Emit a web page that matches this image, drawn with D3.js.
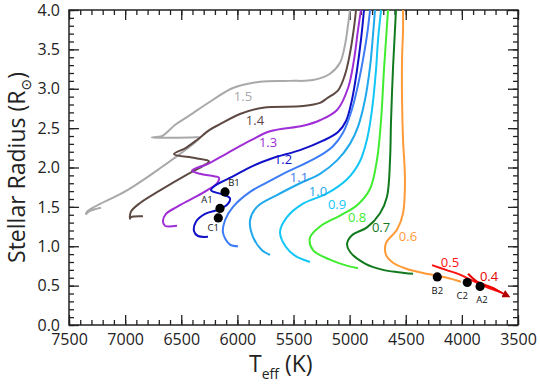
<!DOCTYPE html>
<html>
<head>
<meta charset="utf-8">
<script src="https://cdn.jsdelivr.net/npm/d3@7"></script>
<style>
    body { margin: 0; background: #fff; }
    text { font-family: 'Open Sans', 'DejaVu Sans', sans-serif; }
</style>
</head>
<body>
<script>
(function() {
    'use strict';

    // evolutionary tracks, [Teff (K), R (Rsun)]
    var masses = ['1.5', '1.4', '1.3', '1.2', '1.1', '1.0', '0.9', '0.8', '0.7', '0.6', '0.5', '0.4'];

    var track15 = [[7215, 1.49], [7313, 1.45], [7349, 1.41], [7331, 1.45], [6983, 1.71], [6689, 1.99],
        [6360, 2.34], [6333, 2.38], [6422, 2.38], [6761, 2.38], [6671, 2.40], [6556, 2.54], [6449, 2.64],
        [6217, 2.86], [6039, 3.01], [5798, 3.09], [5531, 3.10], [5326, 3.11], [5175, 3.19], [5086, 3.33],
        [5041, 3.56], [5014, 3.81], [4997, 4.0]];
    var track14 = [[6841, 1.38], [6948, 1.37], [6957, 1.35], [6948, 1.44], [6867, 1.55], [6689, 1.71],
        [6449, 1.91], [6306, 2.02], [6253, 2.08], [6378, 2.12], [6565, 2.17], [6458, 2.25], [6360, 2.35],
        [6244, 2.48], [6155, 2.55], [5977, 2.68], [5772, 2.76], [5415, 2.78], [5264, 2.82], [5201, 2.88],
        [5103, 2.98], [5041, 3.18], [4997, 3.45], [4961, 3.78], [4943, 4.0]];
    var track13 = [[6538, 1.26], [6645, 1.26], [6663, 1.32], [6636, 1.41], [6538, 1.50], [6395, 1.61],
        [6271, 1.71], [6181, 1.80], [6164, 1.87], [6208, 1.89], [6333, 1.92], [6404, 1.96], [6333, 2.01],
        [6271, 2.04], [6092, 2.18], [5887, 2.34], [5709, 2.46], [5415, 2.53], [5264, 2.60], [5112, 2.73],
        [5014, 3.01], [4961, 3.37], [4925, 3.75], [4899, 4.0]];
    var track12 = [[6262, 1.12], [6351, 1.13], [6386, 1.19], [6369, 1.31], [6288, 1.41], [6155, 1.47],
        [6083, 1.54], [6066, 1.61], [6137, 1.66], [6235, 1.71], [6199, 1.77], [6048, 1.88], [5861, 2.02],
        [5683, 2.12], [5442, 2.22], [5237, 2.34], [5103, 2.45], [5032, 2.59], [4979, 2.86], [4934, 3.24],
        [4899, 3.62], [4872, 4.0]];
    var track11 = [[5994, 1.00], [6066, 1.02], [6128, 1.17], [6110, 1.33], [6039, 1.50], [5887, 1.69],
        [5736, 1.81], [5593, 1.92], [5442, 2.02], [5264, 2.15], [5148, 2.27], [5059, 2.44], [4979, 2.74],
        [4925, 3.05], [4881, 3.37], [4845, 3.68], [4818, 4.0]];
    var track10 = [[5709, 0.89], [5781, 0.95], [5861, 1.12], [5887, 1.33], [5825, 1.50], [5647, 1.65],
        [5442, 1.80], [5264, 1.92], [5112, 2.09], [4997, 2.30], [4925, 2.52], [4863, 2.86], [4818, 3.28],
        [4792, 3.68], [4774, 4.0]];
    var track09 = [[5353, 0.80], [5487, 0.88], [5567, 0.99], [5620, 1.18], [5558, 1.37], [5415, 1.54],
        [5201, 1.67], [5023, 1.85], [4908, 2.08], [4845, 2.36], [4801, 2.73], [4765, 3.24], [4747, 3.62],
        [4720, 4.0]];
    var track08 = [[4925, 0.72], [5041, 0.76], [5175, 0.83], [5326, 0.95], [5353, 1.11], [5264, 1.25],
        [5086, 1.39], [4934, 1.52], [4818, 1.73], [4756, 2.10], [4720, 2.60], [4694, 3.24], [4676, 3.62],
        [4658, 4.0]];
    var track07 = [[4435, 0.65], [4569, 0.67], [4703, 0.70], [4863, 0.78], [4997, 0.93], [5023, 1.03],
        [4979, 1.14], [4845, 1.24], [4729, 1.42], [4667, 1.63], [4640, 2.10], [4631, 2.60], [4613, 3.28],
        [4596, 3.75], [4587, 4.0]];
    var track06 = [[4008, 0.55], [4132, 0.60], [4346, 0.66], [4507, 0.72], [4613, 0.79], [4676, 0.89],
        [4676, 1.04], [4578, 1.21], [4524, 1.42], [4507, 1.84], [4524, 2.35], [4533, 2.86], [4533, 3.37],
        [4524, 3.75], [4524, 4.0]];
    var track05 = [[4266, 0.76], [4141, 0.70], [4017, 0.64], [3901, 0.56], [3776, 0.48], [3660, 0.42]];
    var track04 = [[3945, 0.65], [3865, 0.55], [3794, 0.51], [3722, 0.47], [3660, 0.42], [3600, 0.375]];

    var tracks = [track15, track14, track13, track12, track11, track10, track09, track08, track07, track06, track05, track04];

    // where each mass label sits, [Teff, R]
    var labelAt = [[5950, 2.90], [5843, 2.60], [5727, 2.32], [5593, 2.10], [5451, 1.88], [5282, 1.69],
        [5112, 1.53], [4934, 1.37], [4720, 1.24], [4480, 1.13], [4106, 0.79], [3758, 0.62]];

    // stars
    var starNames = ['B1', 'A1', 'C1', 'B2', 'C2', 'A2'];
    var starTeff = [6110, 6155, 6170, 4219, 3952, 3838];
    var starR = [1.69, 1.48, 1.36, 0.61, 0.54, 0.49];

    var tempTicks = [7500, 7000, 6500, 6000, 5500, 5000, 4500, 4000, 3500];
    var radiusTicks = [0, 0.5, 1.0, 1.5, 2.0, 2.5, 3.0, 3.5, 4.0];

    var trackColors = ['#a9a9a9', '#5e4943', '#a02ed6', '#1010c8', '#3c7cf6', '#1fa8ec', '#12c6f6',
        '#40ec30', '#127a1e', '#ff9a36', '#ff1010', '#e80000'];
    var starLabelOffset = [[9, -6], [-13, -5], [-5, 13], [0, 17], [-5, 17], [2, 17]];

    var width = 540, height = 385;
    var plot = { left: 69, right: 518, top: 10, bottom: 325 };

    var svg = d3.select('body').append('svg')
        .attr('width', width)
        .attr('height', height);

    svg.append('defs').append('marker')
        .attr('id', 'tip')
        .attr('viewBox', '0 0 10 10')
        .attr('refX', 5)
        .attr('refY', 5)
        .attr('markerWidth', 4)
        .attr('markerHeight', 4)
        .attr('orient', 'auto')
        .append('path')
        .attr('d', 'M0,0L10,5L0,10Z')
        .attr('fill', '#b00000');

    var x = d3.scaleLinear().domain([7500, 3500]).range([plot.left, plot.right]);
    var y = d3.scaleLinear().domain([0, 4]).range([plot.bottom, plot.top]);

    var minorT = d3.range(3500, 7501, 100);
    var minorR = d3.range(0, 41).map(function(d) { return d / 10; });

    function drawAxis(axis, tx, ty) {
        var g = svg.append('g')
            .attr('transform', 'translate(' + tx + ',' + ty + ')')
            .call(axis);
        g.select('.domain').remove();
        g.selectAll('line').attr('stroke', '#222').attr('stroke-width', 1.3);
        return g;
    }

    // minor ticks
    drawAxis(d3.axisBottom(x).tickValues(minorT).tickSize(-5).tickFormat(''), 0, plot.bottom);
    drawAxis(d3.axisTop(x).tickValues(minorT).tickSize(-5).tickFormat(''), 0, plot.top);
    drawAxis(d3.axisLeft(y).tickValues(minorR).tickSize(-5).tickFormat(''), plot.left, 0);
    drawAxis(d3.axisRight(y).tickValues(minorR).tickSize(-5).tickFormat(''), plot.right, 0);

    // major ticks and labels
    var xb = drawAxis(d3.axisBottom(x).tickValues(tempTicks).tickSize(-10).tickPadding(9).tickFormat(d3.format('d')), 0, plot.bottom);
    drawAxis(d3.axisTop(x).tickValues(tempTicks).tickSize(-10).tickFormat(''), 0, plot.top);
    var yl = drawAxis(d3.axisLeft(y).tickValues(radiusTicks).tickSize(-10).tickPadding(9).tickFormat(d3.format('.1f')), plot.left, 0);
    drawAxis(d3.axisRight(y).tickValues(radiusTicks).tickSize(-10).tickFormat(''), plot.right, 0);

    xb.selectAll('text').attr('font-size', 16).attr('fill', '#222').style('font-family', "'Open Sans', sans-serif");
    yl.selectAll('text').attr('font-size', 16).attr('fill', '#222').style('font-family', "'Open Sans', sans-serif");

    svg.append('rect')
        .attr('x', plot.left)
        .attr('y', plot.top)
        .attr('width', plot.right - plot.left)
        .attr('height', plot.bottom - plot.top)
        .attr('fill', 'none')
        .attr('stroke', '#222')
        .attr('stroke-width', 1.5);

    var line = d3.line()
        .x(function(d) { return x(d[0]); })
        .y(function(d) { return y(d[1]); })
        .curve(d3.curveCatmullRom.alpha(0.5));

    svg.append('g').selectAll('path')
        .data(tracks)
        .enter().append('path')
        .attr('d', line)
        .attr('fill', 'none')
        .attr('stroke', function(d, i) { return trackColors[i]; })
        .attr('stroke-width', 2)
        .attr('stroke-linejoin', 'round')
        .attr('marker-end', function(d, i) { return i === tracks.length - 1 ? 'url(#tip)' : null; });

    svg.append('g').selectAll('text')
        .data(masses)
        .enter().append('text')
        .attr('x', function(d, i) { return x(labelAt[i][0]); })
        .attr('y', function(d, i) { return y(labelAt[i][1]); })
        .attr('dy', '0.35em')
        .attr('text-anchor', 'middle')
        .attr('font-size', 13)
        .attr('fill', function(d, i) { return trackColors[i]; })
        .text(function(d) { return d; });

    var stars = svg.append('g');
    stars.selectAll('circle')
        .data(starNames)
        .enter().append('circle')
        .attr('cx', function(d, i) { return x(starTeff[i]); })
        .attr('cy', function(d, i) { return y(starR[i]); })
        .attr('r', 4.6)
        .attr('fill', '#000');
    stars.selectAll('text')
        .data(starNames)
        .enter().append('text')
        .attr('x', function(d, i) { return x(starTeff[i]) + starLabelOffset[i][0]; })
        .attr('y', function(d, i) { return y(starR[i]) + starLabelOffset[i][1]; })
        .attr('text-anchor', 'middle')
        .attr('font-size', 9.5)
        .attr('fill', '#111')
        .text(function(d) { return d; });

    // axis titles
    var xt = svg.append('text')
        .attr('x', 249)
        .attr('y', 372)
        .attr('font-size', 23)
        .attr('fill', '#222');
    xt.append('tspan').text('T');
    xt.append('tspan').attr('font-size', 14).attr('dy', 7).text('eff');
    xt.append('tspan').attr('dy', -7).text(' (K)');

    var yt = svg.append('text')
        .attr('transform', 'translate(25,' + ((plot.top + plot.bottom) / 2) + ') rotate(-90)')
        .attr('text-anchor', 'middle')
        .attr('font-size', 23)
        .attr('fill', '#222');
    yt.append('tspan').text('Stellar Radius (R');
    yt.append('tspan').attr('font-size', 14).attr('dy', 6).text('\u2299');
    yt.append('tspan').attr('dy', -6).text(')');

}());
</script>
</body>
</html>
